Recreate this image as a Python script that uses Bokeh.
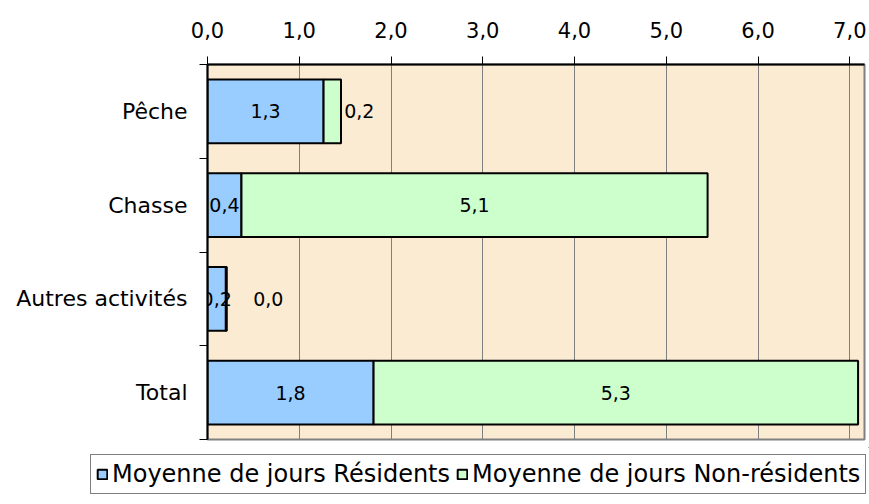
from bokeh.plotting import figure
from bokeh.layouts import column, row
from bokeh.models import (ColumnDataSource, FixedTicker, Legend, LegendItem, Range1d)
from bokeh.core.properties import value
from bokeh.embed import file_html
from bokeh.resources import INLINE

# ---- data ----
categories = ["Pêche", "Chasse", "Autres activités", "Total"]
residents = [1.265, 0.37, 0.20, 1.81]
non_residents = [0.19, 5.08, 0.01, 5.28]
x_ticks = [0, 1, 2, 3, 4, 5, 6, 7]
series_names = ["Moyenne de jours Résidents", "Moyenne de jours Non-résidents"]

# ---- styling ----
FONT = "DejaVu Sans"
BLUE = "#99CCFF"
GREEN = "#CCFFCC"
nonres_label_dx = [27, 0, 42, 0]   # pixel nudges for labels of thin segments

n = len(categories)
ypos = [n - 1 - i for i in range(n)]  # top to bottom

def fmt(v):
    return f"{v:.1f}".replace(".", ",")

res_end = residents
tot_end = [r + nr for r, nr in zip(residents, non_residents)]

src = ColumnDataSource(dict(
    y=ypos,
    res_left=[0] * n, res_right=res_end,
    nr_left=res_end, nr_right=tot_end,
    res_mid=[r / 2 for r in residents],
    nr_mid=[r + nr / 2 for r, nr in zip(residents, non_residents)],
    res_lab=[fmt(v) for v in residents],
    nr_lab=[fmt(v) for v in non_residents],
    nr_dx=nonres_label_dx,
))

p = figure(width=869, height=447, output_backend="svg", toolbar_location=None,
           x_range=Range1d(0, 7.16), y_range=Range1d(-0.5, n - 0.5),
           x_axis_location="above")
p.min_border_left = 207
p.min_border_right = 5
p.min_border_top = 64
p.min_border_bottom = 8

p.background_fill_color = "#FBEBD3"
p.border_fill_color = "white"
p.outline_line_color = "#808080"
p.outline_line_width = 2

r1 = p.hbar(y="y", left="res_left", right="res_right", height=0.68, source=src,
            fill_color=BLUE, line_color="black", line_width=2)
r2 = p.hbar(y="y", left="nr_left", right="nr_right", height=0.68, source=src,
            fill_color=GREEN, line_color="black", line_width=2)

p.text(x="res_mid", y="y", text="res_lab", source=src, text_align="center",
       text_baseline="middle", text_font=value(FONT), text_font_size="19px", text_color="black")
p.text(x="nr_mid", y="y", text="nr_lab", x_offset="nr_dx", source=src, text_align="center",
       text_baseline="middle", text_font=value(FONT), text_font_size="19px", text_color="black")

# x axis (top)
xa = p.xaxis[0]
xa.ticker = FixedTicker(ticks=x_ticks)
xa.major_label_overrides = {t: f"{t},0" for t in x_ticks}
xa.major_label_text_font = FONT
xa.major_label_text_font_size = "21px"
xa.major_label_text_color = "black"
xa.axis_line_color = "black"
xa.axis_line_width = 2
xa.major_tick_out = 8
xa.major_tick_in = 0
xa.minor_tick_out = 0
xa.minor_tick_in = 0
xa.major_tick_line_color = "black"
xa.major_label_standoff = 19

# y axis (left)
ya = p.yaxis[0]
ya.ticker = FixedTicker(ticks=ypos, minor_ticks=[-0.5 + k for k in range(n + 1)])
ya.major_label_overrides = {y: c for y, c in zip(ypos, categories)}
ya.major_label_text_font = FONT
ya.major_label_text_font_size = "22px"
ya.major_label_text_color = "black"
ya.axis_line_color = "black"
ya.axis_line_width = 2
ya.major_tick_out = 0
ya.major_tick_in = 0
ya.minor_tick_out = 8
ya.minor_tick_in = 0
ya.minor_tick_line_color = "black"
ya.major_label_standoff = 12

p.xgrid.grid_line_color = "#808080"
p.xgrid.grid_line_width = 1
p.ygrid.grid_line_color = None

# ---- legend strip ----
lg = figure(width=869, height=57, output_backend="svg", toolbar_location=None,
            x_range=Range1d(0, 1), y_range=Range1d(0, 1),
            x_axis_location=None, y_axis_location=None)
lg.min_border_left = 0
lg.min_border_right = 0
lg.min_border_top = 0
lg.min_border_bottom = 0
lg.outline_line_color = None
lg.xgrid.visible = False
lg.ygrid.visible = False
lg.background_fill_color = "white"
lg.border_fill_color = "white"
# off-canvas proxies so the legend can draw its swatches
d1 = lg.hbar(y=[20], left=[20], right=[20.1], height=0.5, fill_color=BLUE, line_color="black", line_width=2)
d2 = lg.hbar(y=[20], left=[20], right=[20.1], height=0.5, fill_color=GREEN, line_color="black", line_width=2)

legend = Legend(items=[LegendItem(label=series_names[0], renderers=[d1]),
                       LegendItem(label=series_names[1], renderers=[d2])],
                orientation="horizontal", location=(90, 10),
                label_text_font=FONT, label_text_font_size="24px", label_text_color="black",
                glyph_width=12, glyph_height=12, spacing=6,
                label_standoff=4, padding=5, margin=0,
                border_line_color="black", border_line_width=1,
                background_fill_color="white")
lg.add_layout(legend)

layout = column(p, row(lg), spacing=0)
open("out.html", "w").write(file_html(layout, INLINE))
